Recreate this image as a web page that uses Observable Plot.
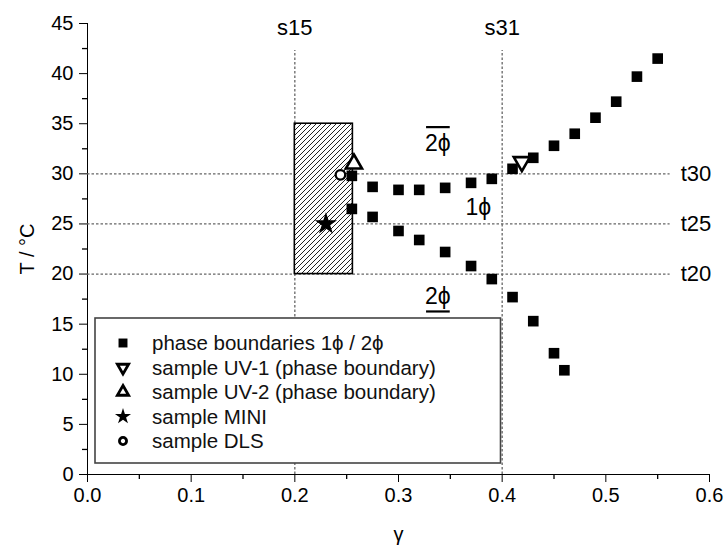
<!DOCTYPE html>
<html><head><meta charset="utf-8">
<script src="https://cdn.jsdelivr.net/npm/d3@7"></script>
<script src="https://cdn.jsdelivr.net/npm/@observablehq/plot@0.6"></script>
<style>
body{margin:0;background:#fff;}
#chart{position:relative;width:726px;height:547px;}
</style>
</head><body><div id="chart"></div>
<script>
// ---- data ----
const upperGamma = [0.255, 0.275, 0.30, 0.32, 0.345, 0.37, 0.39, 0.41, 0.43, 0.45, 0.47, 0.49, 0.51, 0.53, 0.55];
const upperT     = [29.8, 28.7, 28.4, 28.4, 28.6, 29.1, 29.5, 30.5, 31.6, 32.8, 34.0, 35.6, 37.2, 39.7, 41.5];
const lowerGamma = [0.255, 0.275, 0.30, 0.32, 0.345, 0.37, 0.39, 0.41, 0.43, 0.45, 0.46];
const lowerT     = [26.5, 25.7, 24.3, 23.4, 22.2, 20.8, 19.5, 17.7, 15.3, 12.1, 10.4];
const uv1Gamma = [0.419], uv1T = [31.2];
const uv2Gamma = [0.257], uv2T = [31.0];
const miniGamma = [0.23], miniT = [25.0];
const dlsGamma = [0.244], dlsT = [29.9];
const shadeGamma = [0.2, 0.256], shadeT = [20, 35];
const sValues = [0.2, 0.4], sLabels = ["s15", "s31"];
const tValues = [30, 25, 20], tLabels = ["t30", "t25", "t20"];
const phaseLabels = ["2ϕ", "1ϕ", "2ϕ"];
const phaseGamma = [0.338, 0.377, 0.338];
const phaseT = [33.0, 26.6, 17.7];
const phaseDecoration = ["overline", "none", "underline"];
const xTicks = [0, 0.1, 0.2, 0.3, 0.4, 0.5, 0.6];
const xMinor = [0.05, 0.15, 0.25, 0.35, 0.45, 0.55];
const yTicks = [0, 5, 10, 15, 20, 25, 30, 35, 40, 45];
const yMinor = [2.5, 7.5, 12.5, 17.5, 22.5, 27.5, 32.5, 37.5, 42.5];
const legendLabels = ["phase boundaries 1ϕ / 2ϕ", "sample UV-1 (phase boundary)", "sample UV-2 (phase boundary)", "sample MINI", "sample DLS"];

// ---- tables ----
const zip = (xs, ys) => xs.map((x, i) => ({x, y: ys[i]}));
const phasePts = zip(upperGamma, upperT).concat(zip(lowerGamma, lowerT));
const shade = [{x1: shadeGamma[0], x2: shadeGamma[1], y1: shadeT[0], y2: shadeT[1]}];
const sRows = sValues.map((v, i) => ({v, label: sLabels[i]}));
const tRows = tValues.map((v, i) => ({v, label: tLabels[i]}));
const phaseRows = phaseLabels.map((l, i) => ({label: l, x: phaseGamma[i], y: phaseT[i]}));

const dotted = {stroke: "#666", strokeWidth: 1.3, strokeDasharray: "2.5,2"};
const hLineEnd = 0.562, vLineTop = 42.3, sLabelT = 44.6, tLabelGamma = 0.587;

const svg = Plot.plot({
  width: 726, height: 547,
  marginLeft: 87, marginRight: 17, marginTop: 23, marginBottom: 73,
  style: {fontFamily: "'Liberation Sans', Arial, sans-serif", fontSize: "20px", color: "black", background: "white"},
  x: {domain: [0, 0.6], ticks: xTicks, tickFormat: d3.format(".1f"), tickSize: 8, tickPadding: 5,
      line: true, label: "γ", labelAnchor: "center", labelOffset: 66},
  y: {domain: [0, 45], ticks: yTicks, tickSize: 8, tickPadding: 6,
      line: true, label: "T / °C", labelAnchor: "center", labelOffset: 68},
  marks: [
    Plot.ruleY(tRows, {y: "v", x1: 0, x2: hLineEnd, ...dotted}),
    Plot.ruleX(sRows, {x: "v", y1: 0, y2: vLineTop, ...dotted}),
    Plot.rect(shade, {x1: "x1", x2: "x2", y1: "y1", y2: "y2", fill: "url(#hatch)", stroke: "black", strokeWidth: 1.6}),
    Plot.ruleX(xMinor, {x: d => d, y1: 0, y2: 0, insetBottom: -5, stroke: "black", strokeWidth: 1.3}),
    Plot.ruleY(yMinor, {y: d => d, x1: 0, x2: 0, insetLeft: -5, stroke: "black", strokeWidth: 1.3}),
    Plot.text(sRows, {x: "v", y: () => sLabelT, text: "label", fontSize: 22, fill: "black"}),
    Plot.text(tRows, {x: () => tLabelGamma, y: "v", text: "label", fontSize: 22, fill: "black"}),
    Plot.text(phaseRows, {x: "x", y: "y", text: "label", fontSize: 23, fill: "black"}),
    Plot.dot(phasePts, {x: "x", y: "y", symbol: "square", r: 6, fill: "black"}),
    Plot.dot(zip(uv1Gamma, uv1T), {x: "x", y: "y", symbol: "triangle", rotate: 180, r: 6, fill: "white", stroke: "black", strokeWidth: 2.6}),
    Plot.dot(zip(uv2Gamma, uv2T), {x: "x", y: "y", symbol: "triangle", r: 6, fill: "white", stroke: "black", strokeWidth: 2.6}),
    Plot.dot(zip(dlsGamma, dlsT), {x: "x", y: "y", symbol: "circle", r: 4.8, fill: "white", stroke: "black", strokeWidth: 2.3}),
    Plot.dot(zip(miniGamma, miniT), {x: "x", y: "y", symbol: "star", r: 7, fill: "black"})
  ]
});

const root = d3.select(svg);
// hatch pattern
const defs = root.insert("defs", ":first-child");
const pat = defs.append("pattern").attr("id", "hatch").attr("patternUnits", "userSpaceOnUse")
  .attr("width", 5).attr("height", 5);
pat.append("rect").attr("width", 5).attr("height", 5).attr("fill", "white");
pat.append("path").attr("d", "M-1,1 l2,-2 M0,5 l5,-5 M4,6 l2,-2").attr("stroke", "#222").attr("stroke-width", 1);

// strip axis label arrows, force black
root.selectAll("text").each(function() {
  const t = this.textContent;
  if (t.includes("→") || t.includes("↑")) {
    this.textContent = t.replace(/\s*[→↑]\s*/g, "").trim();
    d3.select(this).attr("fill", "black").style("fill", "black");
  }
});
root.selectAll('g[aria-label="x-axis"] path, g[aria-label="y-axis"] path').attr("stroke-width", 1.3);

// legend
const lg = root.append("g").attr("font-size", 20.5).attr("font-family", "'Liberation Sans', Arial, sans-serif")
  .attr("text-anchor", "start");
lg.append("rect").attr("x", 95).attr("y", 318).attr("width", 405.5).attr("height", 145)
  .attr("fill", "white").attr("stroke", "#444").attr("stroke-width", 1.6);
const legSyms = [
  {t: d3.symbolSquare, s: 80, fill: "black", stroke: "none", rot: 0},
  {t: d3.symbolTriangle, s: 55, fill: "white", stroke: "black", rot: 180},
  {t: d3.symbolTriangle, s: 55, fill: "white", stroke: "black", rot: 0},
  {t: d3.symbolStar, s: 80, fill: "black", stroke: "none", rot: 0},
  {t: d3.symbolCircle, s: 40, fill: "white", stroke: "black", rot: 0}
];
legendLabels.forEach((lab, i) => {
  const cy = 343 + i * 24.5;
  const sy = legSyms[i];
  lg.append("path").attr("d", d3.symbol(sy.t, sy.s)())
    .attr("transform", `translate(123,${cy}) rotate(${sy.rot})`)
    .attr("fill", sy.fill).attr("stroke", sy.stroke).attr("stroke-width", 2.8);
  lg.append("text").attr("x", 152).attr("y", cy).attr("dy", "0.35em").attr("text-anchor", "start")
    .attr("fill", "#111").text(lab);
});

document.getElementById("chart").appendChild(svg);

// over/underlines derived from the rendered phase label boxes
const svgBox = svg.getBoundingClientRect();
const phaseNodes = Array.from(svg.querySelectorAll("text")).filter(n => n.textContent === "2ϕ" || n.textContent === "1ϕ");
phaseNodes.forEach((node, i) => {
  const dec = phaseDecoration[i];
  if (!dec || dec === "none") return;
  const b = node.getBoundingClientRect();
  const x1 = b.left - svgBox.left + 1, x2 = b.right - svgBox.left - 1;
  const yy = dec === "overline" ? b.top - svgBox.top - 3 : b.bottom - svgBox.top + 2;
  root.append("line").attr("x1", x1).attr("x2", x2).attr("y1", yy).attr("y2", yy)
    .attr("stroke", "black").attr("stroke-width", 2.2);
});
</script>
</body></html>
